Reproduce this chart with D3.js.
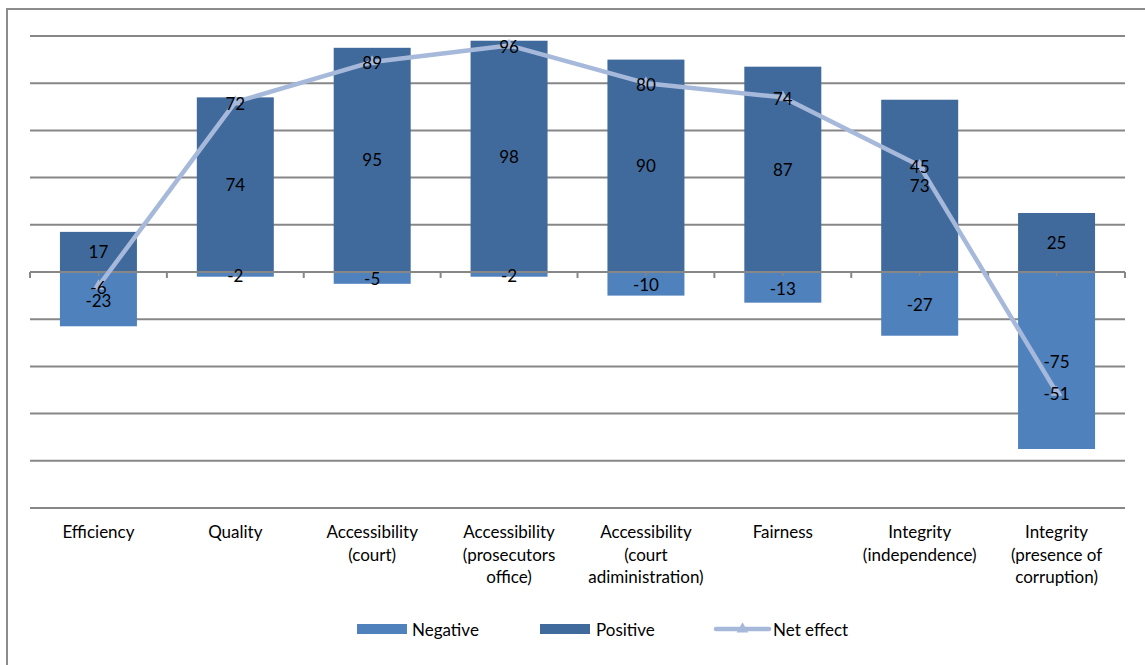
<!DOCTYPE html>
<html>
<head>
<meta charset="utf-8">
<script src="https://cdn.jsdelivr.net/npm/d3@7/dist/d3.min.js"></script>
<style>
  html, body { margin: 0; padding: 0; background: #fff; }
  svg { display: block; font-family: Lato, "Open Sans", sans-serif; }
</style>
</head>
<body>
<svg id="chart" width="1145" height="665"></svg>
<script>
// Survey categories (multi-line labels)
const categories = [
  ["Efficiency"],
  ["Quality"],
  ["Accessibility", "(court)"],
  ["Accessibility", "(prosecutors", "office)"],
  ["Accessibility", "(court", "adiministration)"],
  ["Fairness"],
  ["Integrity", "(independence)"],
  ["Integrity", "(presence of", "corruption)"]
];
const positive = [17, 74, 95, 98, 90, 87, 73, 25];
const negative = [-23, -2, -5, -2, -10, -13, -27, -75];
const netEffect = [-6, 72, 89, 96, 80, 74, 45, -51];
const gridValues = [100, 80, 60, 40, 20, 0, -20, -40, -60, -80, -100];
const legendItems = ["Negative", "Positive", "Net effect"];

const colors = { neg: "#4F81BD", pos: "#406A9C", net: "#A7B9DA", grid: "#878787" };

const svg = d3.select("#chart");

// outer frame
svg.append("path")
  .attr("d", "M7,665 L7,9 L1145,9")
  .attr("fill", "none").attr("stroke", "#8c8c8c").attr("stroke-width", 2);

const plot = { left: 30, right: 1125, top: 36, bottom: 508 };

const x = d3.scaleBand()
  .domain(d3.range(categories.length))
  .range([plot.left, plot.right]);
const y = d3.scaleLinear().domain([-100, 100]).range([plot.bottom, plot.top]);

const barW = x.bandwidth() * 0.5625;
const cx = i => x(i) + x.bandwidth() / 2;

// horizontal gridlines
svg.append("g").selectAll("line").data(gridValues.filter(v => v !== 0)).join("line")
  .attr("x1", plot.left).attr("x2", plot.right)
  .attr("y1", d => y(d)).attr("y2", d => y(d))
  .attr("stroke", colors.grid).attr("stroke-width", 2);

// bars
const bars = svg.append("g");
bars.selectAll("rect.pos").data(positive).join("rect")
  .attr("x", (d, i) => cx(i) - barW / 2).attr("width", barW)
  .attr("y", d => y(d)).attr("height", d => y(0) - y(d))
  .attr("fill", colors.pos);
bars.selectAll("rect.neg").data(negative).join("rect")
  .attr("x", (d, i) => cx(i) - barW / 2).attr("width", barW)
  .attr("y", y(0)).attr("height", d => y(d) - y(0))
  .attr("fill", colors.neg);

// zero axis with tick marks
const axisG = svg.append("g");
axisG.append("line")
  .attr("x1", plot.left).attr("x2", plot.right)
  .attr("y1", y(0)).attr("y2", y(0))
  .attr("stroke", colors.grid).attr("stroke-width", 2);
const boundaries = d3.range(categories.length + 1).map(i => plot.left + i * x.bandwidth());
axisG.selectAll("line.tick").data(boundaries).join("line")
  .attr("x1", d => d).attr("x2", d => d)
  .attr("y1", y(0)).attr("y2", y(0) + 6)
  .attr("stroke", colors.grid).attr("stroke-width", 2);
axisG.selectAll("line.mtick").data(d3.range(categories.length)).join("line")
  .attr("x1", i => cx(i)).attr("x2", i => cx(i))
  .attr("y1", y(0)).attr("y2", y(0) + 4)
  .attr("stroke", colors.grid).attr("stroke-width", 1.5);

// net effect line with triangle markers
const line = d3.line().x((d, i) => cx(i)).y(d => y(d));
svg.append("path").datum(netEffect)
  .attr("d", line)
  .attr("fill", "none").attr("stroke", colors.net)
  .attr("stroke-width", 4.5).attr("stroke-linejoin", "round");
const tri = d3.symbol().type(d3.symbolTriangle).size(60);
svg.append("g").selectAll("path").data(netEffect).join("path")
  .attr("transform", (d, i) => `translate(${cx(i)},${y(d)})`)
  .attr("d", tri).attr("fill", colors.net);

// value labels
const labels = svg.append("g")
  .attr("font-size", 17).attr("fill", "#000")
  .attr("text-anchor", "middle").attr("dominant-baseline", "central");
labels.selectAll("text.pos").data(positive).join("text")
  .attr("x", (d, i) => cx(i)).attr("y", d => (y(d) + y(0)) / 2)
  .text(d => d);
labels.selectAll("text.neg").data(negative).join("text")
  .attr("x", (d, i) => cx(i)).attr("y", d => (y(d) + y(0)) / 2 + 1)
  .text(d => d);
labels.selectAll("text.net").data(netEffect).join("text")
  .attr("x", (d, i) => cx(i)).attr("y", d => y(d) + 1)
  .text(d => d);

// category labels
const catG = svg.append("g").attr("font-size", 17).attr("fill", "#000")
  .attr("text-anchor", "middle");
categories.forEach((lines, i) => {
  const t = catG.append("text").attr("x", cx(i)).attr("y", 538);
  lines.forEach((ln, k) => {
    t.append("tspan").attr("x", cx(i)).attr("dy", k === 0 ? 0 : 22.5).text(ln);
  });
});

// legend
const leg = svg.append("g").attr("font-size", 17).attr("fill", "#000");
const legX = [357, 540, 716];
leg.append("rect").attr("x", legX[0]).attr("y", 624).attr("width", 50).attr("height", 10).attr("fill", colors.neg);
leg.append("rect").attr("x", legX[1]).attr("y", 624).attr("width", 50).attr("height", 10).attr("fill", colors.pos);
leg.append("line").attr("x1", legX[2]).attr("x2", legX[2] + 53).attr("y1", 629).attr("y2", 629)
  .attr("stroke", colors.net).attr("stroke-width", 4.5).attr("stroke-linecap", "round");
leg.append("path").attr("transform", `translate(${legX[2] + 26.5},629)`).attr("d", tri).attr("fill", colors.net);
const legTextX = [412, 596, 773];
leg.selectAll("text").data(legendItems).join("text")
  .attr("x", (d, i) => legTextX[i]).attr("y", 629)
  .attr("dominant-baseline", "central")
  .text(d => d);
</script>
</body>
</html>
